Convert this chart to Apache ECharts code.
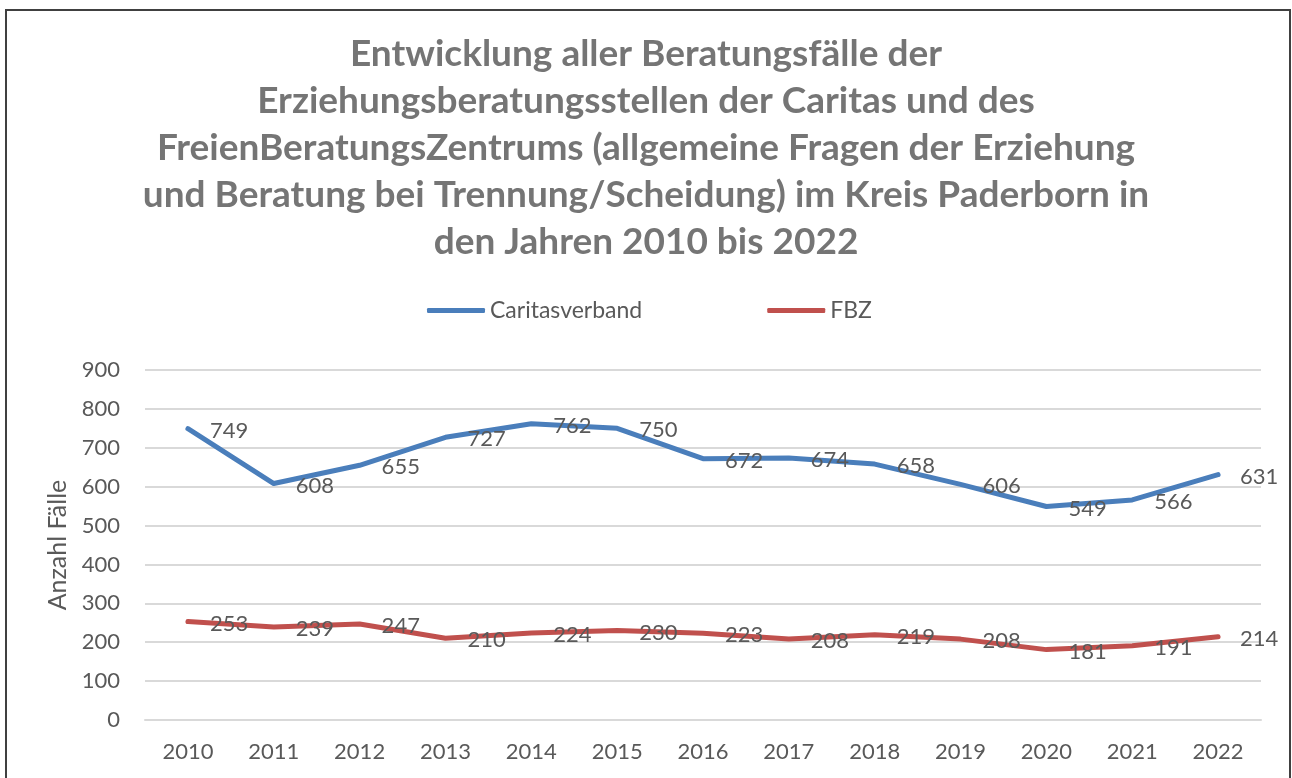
<!DOCTYPE html>
<html>
<head>
<meta charset="utf-8">
<script src="https://cdn.jsdelivr.net/npm/echarts@6/dist/echarts.min.js"></script>
<style>
html,body{margin:0;padding:0;background:#fff;overflow:hidden;}
#chart{width:1292px;height:778px;position:absolute;left:0;top:0;}
#frame{position:absolute;left:5px;top:9px;width:1286px;height:800px;border:2px solid #404040;pointer-events:none;box-sizing:border-box;}
</style>
</head>
<body>
<div id="chart"></div>
<div id="frame"></div>
<script>
const titleText = 'Entwicklung aller Beratungsfälle der\nErziehungsberatungsstellen der Caritas und des\nFreienBeratungsZentrums (allgemeine Fragen der Erziehung\nund Beratung bei Trennung/Scheidung) im Kreis Paderborn in\nden Jahren 2010 bis 2022';
const years = ['2010','2011','2012','2013','2014','2015','2016','2017','2018','2019','2020','2021','2022'];
const caritas = [749, 608, 655, 727, 762, 750, 672, 674, 658, 606, 549, 566, 631];
const fbz = [253, 239, 247, 210, 224, 230, 223, 208, 219, 208, 181, 191, 214];
const seriesNames = ['Caritasverband', 'FBZ'];
const yAxisName = 'Anzahl Fälle';

const FONT = 'Lato, "Open Sans", sans-serif';
const chart = echarts.init(document.getElementById('chart'), null, {renderer:'canvas'});
const labelCfg = {show:true, position:'right', distance:22, offset:[0,2], fontSize:22, color:'#595959', fontFamily:FONT};
chart.setOption({
  animation:false,
  textStyle:{fontFamily:FONT},
  title:{
    text:titleText, left:'center', top:26,
    textStyle:{fontSize:37, fontWeight:'bold', color:'#757575', lineHeight:47, fontFamily:FONT}
  },
  legend:{
    left:422, top:294, itemWidth:58, itemHeight:5, itemGap:125,
    icon:'roundRect',
    textStyle:{fontSize:23, color:'#595959', fontFamily:FONT},
    data:seriesNames
  },
  grid:{left:145, right:31, top:370, bottom:58},
  xAxis:{
    type:'category', data:years, boundaryGap:true,
    axisLine:{show:true, lineStyle:{color:'#d9d9d9', width:2}},
    axisTick:{show:false},
    axisLabel:{fontSize:22, color:'#595959', margin:21, fontFamily:FONT}
  },
  yAxis:{
    type:'value', min:0, max:900, interval:100,
    name:yAxisName, nameLocation:'middle', nameGap:75, nameRotate:90,
    nameTextStyle:{fontSize:25, color:'#595959', fontFamily:FONT},
    axisLine:{show:false}, axisTick:{show:false},
    axisLabel:{fontSize:22, color:'#595959', margin:25, fontFamily:FONT},
    splitLine:{lineStyle:{color:'#d9d9d9', width:2}}
  },
  series:[
    {name:seriesNames[0], type:'line', data:caritas, symbol:'circle', symbolSize:0, showSymbol:true,
     lineStyle:{width:5, color:'#4a7ebb', cap:'round', join:'round'}, itemStyle:{color:'#4a7ebb'},
     label:labelCfg},
    {name:seriesNames[1], type:'line', data:fbz, symbol:'circle', symbolSize:0, showSymbol:true,
     lineStyle:{width:5, color:'#c0504d', cap:'round', join:'round'}, itemStyle:{color:'#c0504d'},
     label:labelCfg}
  ]
});
</script>
</body>
</html>
